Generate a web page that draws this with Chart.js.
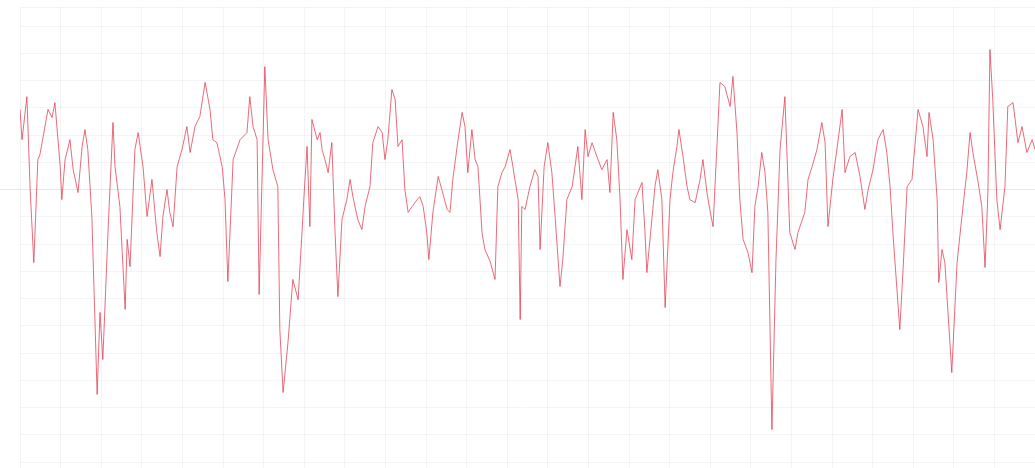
<!DOCTYPE html>
<html>
<head>
<meta charset="utf-8">
<title>Series</title>
<script src="https://cdn.jsdelivr.net/npm/chart.js@4/dist/chart.umd.min.js"></script>
<style>
  html, body { margin: 0; padding: 0; background: #ffffff; }
  #wrap { width: 1035px; height: 468px; position: relative; }
</style>
</head>
<body>
<div id="wrap"><canvas id="chart"></canvas></div>
<script>
// Sample positions (days) and the measured series at each of them
const days = [
  0.0, 0.5, 1.7, 2.5, 3.4, 4.4, 4.9, 6.9, 7.9, 8.6,
  9.9, 10.3, 11.1, 12.3, 13.1, 14.3, 15.3, 16.0, 16.7, 17.7,
  19.0, 19.7, 20.4, 21.7, 22.9, 23.4, 24.6, 25.9, 26.4, 27.1,
  28.3, 29.1, 30.3, 31.3, 32.5, 33.7, 34.5, 35.2, 36.2, 36.9,
  37.7, 38.7, 39.9, 41.1, 41.9, 43.1, 44.3, 45.6, 46.8, 47.5,
  48.5, 49.8, 50.5, 51.2, 52.5, 54.2, 55.9, 56.6, 57.4, 58.4,
  58.9, 60.3, 61.1, 62.3, 63.5, 64.0, 64.8, 66.0, 67.2, 68.5,
  69.5, 69.9, 70.7, 71.4, 71.9, 73.2, 73.9, 74.4, 75.1, 75.9,
  76.8, 77.6, 78.3, 79.3, 80.5, 81.3, 82.0, 83.2, 84.2, 85.0,
  86.2, 86.9, 88.2, 89.2, 89.9, 90.6, 91.6, 92.4, 93.1, 94.1,
  94.8, 95.6, 96.6, 97.8, 98.5, 99.3, 100.2, 100.7, 101.7, 103.0,
  103.9, 105.2, 105.9, 106.6, 107.9, 108.9, 109.6, 110.3, 111.3, 112.1,
  112.8, 113.8, 114.5, 115.8, 117.0, 117.7, 118.7, 119.5, 120.7, 121.4,
  122.7, 123.2, 123.6, 124.4, 125.6, 126.8, 127.6, 128.1, 129.1, 130.0,
  131.0, 131.8, 133.0, 133.7, 134.7, 136.0, 136.7, 137.4, 138.4, 139.2,
  139.9, 140.9, 142.1, 143.3, 144.6, 145.3, 146.1, 147.0, 147.8, 148.5,
  149.5, 150.7, 151.5, 153.2, 153.9, 154.4, 155.7, 156.4, 157.1, 158.1,
  158.9, 160.1, 160.8, 161.8, 162.3, 163.3, 164.3, 165.0, 166.3, 167.5,
  168.2, 169.2, 169.9, 170.7, 171.7, 172.4, 173.6, 174.9, 175.6, 176.6,
  177.3, 178.1, 179.3, 180.3, 181.0, 181.8, 182.7, 183.5, 184.2, 185.2,
  186.2, 187.2, 188.4, 189.6, 190.9, 191.6, 193.3, 194.1, 195.1, 196.3,
  197.5, 198.3, 199.0, 200.2, 201.2, 202.5, 203.2, 204.4, 205.7, 206.9,
  208.1, 208.9, 210.1, 211.3, 212.6, 213.5, 214.3, 215.0, 216.7, 217.5,
  218.5, 219.7, 220.4, 221.2, 222.4, 223.4, 223.9, 224.9, 225.9, 226.3,
  227.1, 227.8, 229.5, 230.8, 232.0, 233.2, 234.0, 234.7, 236.0, 236.9,
  237.7, 238.4, 238.9, 239.6, 240.6, 241.4, 242.6, 243.3, 244.6, 245.8,
  246.8, 248.0, 249.3, 250.0
];

const values = [
  2.94, 1.83, 3.41, 0.00, -2.68, 1.10, 1.28, 2.94, 2.64, 3.19,
  0.84, -0.37, 1.10, 1.83, 0.73, -0.11, 1.58, 2.20, 1.47, -0.99,
  -7.52, -4.51, -6.24, -1.47, 2.46, 0.84, -0.62, -4.40, -1.83, -2.83,
  1.47, 2.09, 0.84, -0.99, 0.37, -1.58, -2.46, -0.99, 0.00, -0.84,
  -1.36, 0.84, 1.47, 2.31, 1.36, 2.31, 2.68, 3.93, 2.94, 1.83,
  1.72, 0.84, -0.37, -3.38, 1.10, 1.83, 2.09, 3.41, 2.31, 1.83,
  -3.85, 4.51, 1.83, 0.73, 0.11, -5.14, -7.45, -5.62, -3.30, -4.04,
  -1.47, -0.37, 1.58, -1.36, 2.57, 1.83, 2.09, 1.47, 1.10, 0.62,
  1.72, -1.58, -3.93, -1.10, -0.37, 0.37, -0.26, -1.10, -1.47, -0.62,
  0.11, 1.72, 2.31, 2.09, 1.10, 1.83, 3.67, 3.30, 1.58, 1.83,
  0.00, -0.84, -0.62, -0.37, -0.26, -0.62, -1.58, -2.57, -0.84, 0.48,
  0.00, -0.73, -0.84, 0.37, 1.83, 2.83, 2.31, 0.62, 2.20, 1.10,
  0.84, -1.58, -2.20, -2.64, -3.30, 0.11, 0.62, 0.84, 1.47, 0.84,
  -0.37, -4.77, -0.62, -0.73, 0.11, 0.73, 0.48, -2.20, 0.84, 1.72,
  0.62, -0.99, -3.56, -2.57, -0.37, 0.11, 0.84, 1.58, -0.37, 2.20,
  1.21, 1.72, 1.21, 0.73, 1.10, -0.11, 2.83, 1.83, -0.37, -3.30,
  -1.47, -2.57, -0.37, 0.26, -1.47, -3.05, -0.99, 0.11, 0.73, -0.37,
  -4.33, -0.37, 0.62, 1.58, 2.20, 1.21, 0.11, -0.37, -0.48, 0.37,
  1.10, -0.11, -0.73, -1.36, 1.72, 3.93, 3.78, 3.05, 4.15, 2.09,
  -0.37, -1.83, -2.31, -3.05, -0.62, 0.11, 1.36, 0.62, -0.84, -8.81,
  -2.57, 1.47, 3.41, -1.58, -2.20, -1.58, -0.84, 0.37, 0.84, 1.47,
  2.46, 1.72, -1.36, 0.37, 1.47, 2.94, 0.62, 1.21, 1.36, 0.48,
  -0.73, 0.00, 0.73, 1.83, 2.20, 1.36, 0.11, -1.58, -5.14, -2.94,
  0.11, 0.37, 1.58, 2.94, 2.31, 1.21, 2.83, 1.83, -0.37, -3.41,
  -2.20, -2.68, -6.72, -2.68, -0.99, 0.62, 2.09, 1.36, 0.26, -0.62,
  -2.86, -0.11, 5.14, 3.30, -0.37, -1.47, 0.11, 3.05, 3.19, 1.72,
  2.31, 1.36, 1.83, 1.47
];

// Axis ranges and tick spacing
const dayRange = [0, 250];
const dayStep = 10;
const valueRange = [-10, 6.7];
const valueStep = 1;

const points = days.map((d, i) => ({ x: d, y: values[i] }));

new Chart(document.getElementById('chart'), {
  type: 'line',
  data: {
    datasets: [{
      data: points,
      borderColor: 'rgba(226, 58, 78, 0.75)',
      borderWidth: 1,
      pointRadius: 0,
      pointHoverRadius: 0,
      tension: 0,
      fill: false
    }]
  },
  options: {
    responsive: true,
    maintainAspectRatio: false,
    animation: false,
    layout: { padding: { top: 7, right: 0, bottom: 0, left: 0 } },
    plugins: {
      legend: { display: false },
      tooltip: { enabled: false }
    },
    scales: {
      x: {
        type: 'linear',
        min: dayRange[0],
        max: dayRange[1],
        ticks: { display: false, stepSize: dayStep },
        border: { display: false },
        grid: {
          color: 'rgba(0, 0, 0, 0.045)',
          drawTicks: true,
          tickLength: 6,
          tickColor: 'rgba(0, 0, 0, 0.045)'
        }
      },
      y: {
        type: 'linear',
        min: valueRange[0],
        max: valueRange[1],
        ticks: { display: false, stepSize: valueStep },
        border: { display: false },
        grid: {
          color: ctx => ctx.tick && ctx.tick.value === 0 ? 'rgba(0, 0, 0, 0.09)' : 'rgba(0, 0, 0, 0.045)',
          drawTicks: true,
          tickLength: 20,
          tickColor: ctx => ctx.tick && ctx.tick.value === 0 ? 'rgba(0, 0, 0, 0.09)' : 'rgba(0, 0, 0, 0)'
        }
      }
    }
  }
});
</script>
</body>
</html>
